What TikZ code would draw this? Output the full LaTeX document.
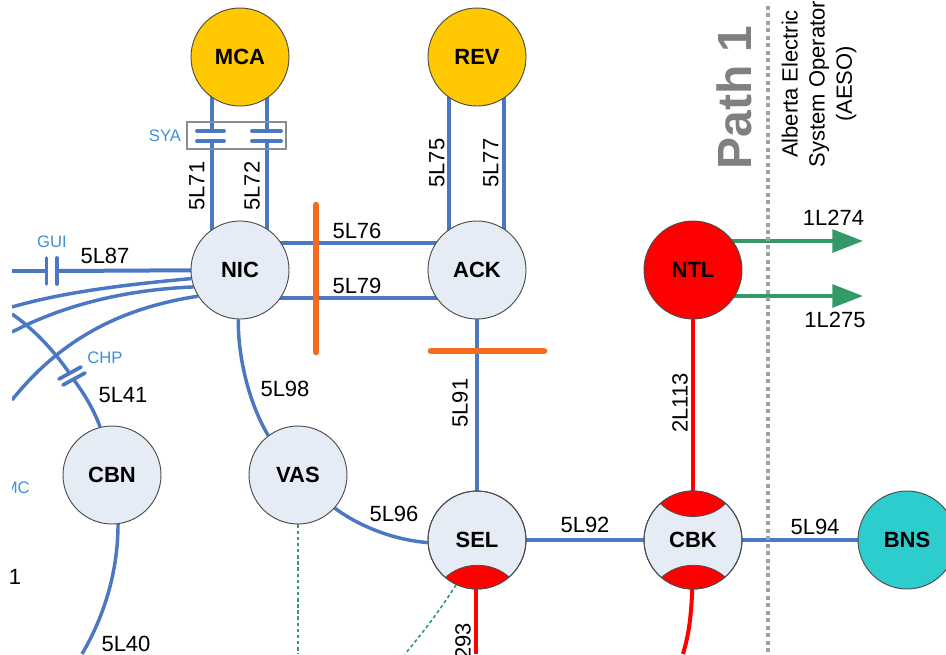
\documentclass[tikz,border=0pt]{standalone}
\usepackage{fontspec}
\setmainfont{Liberation Sans}
\usetikzlibrary{arrows.meta,backgrounds,calc}
\definecolor{lineblue}{HTML}{4A78C2}
\definecolor{labelblue}{HTML}{3F8FD8}
\definecolor{busfill}{HTML}{E6ECF6}
\definecolor{gold}{HTML}{FFC800}
\definecolor{aqua}{HTML}{2ECDCD}
\definecolor{flowgreen}{HTML}{339966}
\definecolor{cut}{HTML}{F26B21}
\definecolor{pathgray}{HTML}{808080}
\tikzset{
  bus/.style={circle,draw=black!70,line width=0.7pt,minimum size=73.5pt,inner sep=0pt,font=\fontsize{16.5}{16.5}\selectfont\bfseries},
  plain/.style={bus,fill=busfill},
  blueline/.style={draw=lineblue,line width=3pt},
  bluecurve/.style={draw=lineblue,line width=2.6pt},
  redline/.style={draw=red,line width=3pt},
  plate/.style={draw=lineblue,line width=2.8pt,line cap=round},
  tie/.style={draw=flowgreen,line width=1.2pt,dash pattern=on 2.6pt off 2pt},
  greenarrow/.style={draw=flowgreen,line width=3pt,-{Triangle[length=23pt,width=17pt,fill=flowgreen]}},
  cutline/.style={draw=cut,line width=5pt,line cap=round},
  lab/.style={font=\fontsize{16.5}{16.5}\selectfont,inner sep=0pt},
  sublab/.style={font=\fontsize{12.5}{12.5}\selectfont,text=labelblue,inner sep=0pt},
  lens/.style={fill=red,draw=black!70,line width=0.6pt}
}
\begin{document}
\begin{tikzpicture}[x=0.75pt,y=-0.75pt]
\useasboundingbox (0,0) rectangle (946,654);
\node[plain,fill=gold] (MCA) at (240,57) {MCA};
\node[plain,fill=gold] (REV) at (477,57) {REV};
\node[plain] (NIC) at (240,270) {NIC};
\node[plain] (ACK) at (477,270) {ACK};
\node[plain,fill=red] (NTL) at (693,270) {};
\node[plain] (CBN) at (112,475) {CBN};
\node[plain] (VAS) at (298,475) {VAS};
\node[plain] (SEL) at (477,540) {};
\node[plain] (CBK) at (693,540) {};
\node[plain,fill=aqua] (BNS) at (907,540) {BNS};
% lens caps
\begin{scope}
\clip (SEL) circle (49);
\draw[lens] (445,578) .. controls (462,561) and (493,561) .. (510,578) -- (515,600) -- (440,600) -- cycle;
\end{scope}
\begin{scope}
\clip (CBK) circle (49);
\draw[lens] (660,503) .. controls (677,521) and (709,521) .. (726,503) -- (730,480) -- (655,480) -- cycle;
\draw[lens] (661,578) .. controls (678,561) and (709,561) .. (726,578) -- (730,600) -- (655,600) -- cycle;
\end{scope}
\draw[draw=black!70,line width=0.7pt] (SEL) circle (49) (CBK) circle (49);
\node[font=\fontsize{16.5}{16.5}\selectfont\bfseries,inner sep=0pt] (NTLt) at (NTL) {NTL};
\node[font=\fontsize{16.5}{16.5}\selectfont\bfseries,inner sep=0pt] (SELt) at (SEL) {SEL};
\node[font=\fontsize{16.5}{16.5}\selectfont\bfseries,inner sep=0pt] (CBKt) at (CBK) {CBK};
% free ends
\coordinate (leftA) at (12,271);
\coordinate (gA) at (46,271);
\coordinate (gB) at (57,271);
\coordinate (e1) at (12,307);
\coordinate (e2) at (12,332);
\coordinate (e3) at (12,400);
\coordinate (e4) at (12,314);
\coordinate (cA) at (70,374);
\coordinate (cB) at (74,380);
\coordinate (e5) at (82,654);
\coordinate (e6) at (298,654);
\coordinate (e7) at (405,654);
\coordinate (e8) at (476,654);
\coordinate (e9) at (683,654);
\coordinate (a1) at (863,241);
\coordinate (a2) at (863,296);
\coordinate (sy1) at (212,133);
\coordinate (sy2) at (212,140);
\coordinate (sy3) at (267,133);
\coordinate (sy4) at (267,140);
\begin{scope}[on background layer]
\begin{scope}
\clip (12,0) rectangle (946,654);
\draw[blueline] (leftA) -- (gA);
\draw[blueline] (gB) -- (NIC.center);
\draw[bluecurve] (NIC.190) .. controls (120,285) and (60,293) .. (e1);
\draw[bluecurve] (NIC.200) .. controls (120,290) and (60,307) .. (e2);
\draw[bluecurve] (NIC.212) .. controls (120,308) and (60,340) .. (e3);
\draw[bluecurve] (e4) .. controls (35,330) and (55,352) .. (cA);
\draw[bluecurve] (cB) .. controls (85,395) and (94,410) .. (CBN.104);
\end{scope}
\draw[blueline] ([xshift=-21pt]MCA.center) -- (sy1);
\draw[blueline] (sy2) -- ([xshift=-21pt]NIC.center);
\draw[blueline] ([xshift=20.25pt]MCA.center) -- (sy3);
\draw[blueline] (sy4) -- ([xshift=20.25pt]NIC.center);
\draw[blueline] ([xshift=-21pt]REV.center) -- ([xshift=-21pt]ACK.center);
\draw[blueline] ([xshift=20.25pt]REV.center) -- ([xshift=20.25pt]ACK.center);
\draw[blueline] ([yshift=20.25pt]NIC.center) -- ([yshift=20.25pt]ACK.center);
\draw[blueline] ([yshift=-21pt]NIC.center) -- ([yshift=-21pt]ACK.center);
\draw[bluecurve] (NIC.268) .. controls (238,360) and (250,405) .. (VAS.127);
\draw[bluecurve] (VAS.-42) .. controls (360,527) and (395,540) .. (SEL.183);
\draw[blueline] (ACK) -- (SEL);
\draw[blueline] (SEL) -- (CBK);
\draw[blueline] (CBK) -- (BNS);
\draw[bluecurve] (CBN.-83) .. controls (118,570) and (105,615) .. (e5);
\draw[redline] (NTL) -- (CBK);
\draw[redline] ([xshift=-0.75pt]SEL.center) -- (e8);
\draw[redline] (CBK.center) .. controls (693,610) and (690,630) .. (e9);
\draw[tie] (VAS) -- (e6);
\draw[tie] (SEL.245) .. controls (440,610) and (425,630) .. (e7);
\draw[draw=flowgreen,line width=3pt] ([yshift=21.75pt]NTL.center) -- (840,241);
\draw[draw=flowgreen,line width=3pt] ([yshift=-19.5pt]NTL.center) -- (840,296);
\end{scope}
\draw[greenarrow] (800,241) -- (a1);
\draw[greenarrow] (800,296) -- (a2);
% capacitors
\draw[draw=gray!90,line width=1.5pt] (187,122) rectangle (286,149);
\draw[plate] (197,131) -- (224,131);
\draw[plate] (197,141) -- (224,141);
\draw[plate] (252,131) -- (281,131);
\draw[plate] (252,141) -- (281,141);
\draw[plate] (46.5,258) -- (46.5,284);
\draw[plate] (57,258) -- (57,284);
\draw[plate] (59,379) -- (81,367);
\draw[plate] (63,385) -- (85,373);
% cut planes and path boundary
\draw[cutline] (316,205) -- (316,352);
\draw[cutline] (431,351) -- (544,351);
\draw[draw=gray!75,line width=2.8pt,dash pattern=on 3pt off 2.6pt] (768,6) -- (768,654);
% labels
\node[sublab] at (52,242) {GUI};
\node[sublab] at (105,358) {CHP};
\node[sublab] at (165,136) {SYA};
\begin{scope}
\clip (12,470) rectangle (60,500);
\node[sublab,anchor=east] at (30,488) {MC};
\end{scope}
\node[lab] at (15,577) {1};
\node[lab] at (105,256) {5L87};
\node[lab] at (123,395) {5L41};
\node[lab] at (126,643.5) {5L40};
\node[lab,rotate=90] at (197,186) {5L71};
\node[lab,rotate=90] at (252,186) {5L72};
\node[lab,rotate=90] at (437,163) {5L75};
\node[lab,rotate=90] at (491,163) {5L77};
\node[lab] at (357,231) {5L76};
\node[lab] at (357,286) {5L79};
\node[lab] at (285,389) {5L98};
\node[lab,rotate=90] at (460,403) {5L91};
\node[lab,rotate=90] at (680,403) {2L113};
\node[lab] at (394,514) {5L96};
\node[lab] at (585,525) {5L92};
\node[lab] at (815,527) {5L94};
\node[lab] at (833.5,218) {1L274};
\node[lab] at (835,320) {1L275};
\node[lab,rotate=90,anchor=east] at (463,623) {2L293};
\node[rotate=90,font=\fontsize{36}{36}\selectfont\bfseries,text=pathgray,inner sep=0pt] at (734,97.5) {Path 1};
\node[lab,rotate=90,align=center,font=\fontsize{16.5}{20.4}\selectfont] at (819,84) {Alberta Electric\\System Operator\\(AESO)};
\end{tikzpicture}
\end{document}
